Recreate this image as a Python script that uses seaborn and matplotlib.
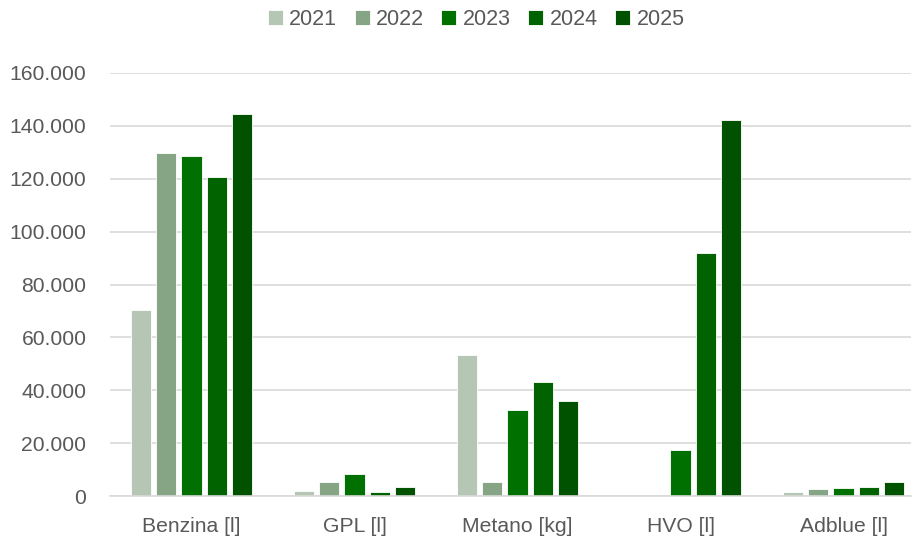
import matplotlib
matplotlib.use("Agg")
import matplotlib.pyplot as plt
import seaborn as sns
import pandas as pd
from matplotlib.ticker import FuncFormatter

categories = ["Benzina [l]", "GPL [l]", "Metano [kg]", "HVO [l]", "Adblue [l]"]
years = ["2021", "2022", "2023", "2024", "2025"]
v2021 = [70500, 2000, 53300, 0, 1500]
v2022 = [129800, 5200, 5200, 0, 2800]
v2023 = [128600, 8300, 32400, 17400, 3100]
v2024 = [120700, 1600, 43200, 92000, 3300]
v2025 = [144500, 3300, 35900, 142200, 5200]
colors = ["#B5C6B5", "#85A585", "#007000", "#006300", "#005200"]

series = [v2021, v2022, v2023, v2024, v2025]
rows = []
for y, vals in zip(years, series):
    for c, v in zip(categories, vals):
        rows.append({"cat": c, "year": y, "val": v})
df = pd.DataFrame(rows)

sns.set_theme(style="white")
plt.rcParams['font.family'] = ['Liberation Sans', 'DejaVu Sans']

fig = plt.figure(figsize=(9.14, 5.4), dpi=100)
ax = fig.add_axes([110 / 914, 1 - 496 / 540, 801 / 914, 423 / 540])
sns.barplot(data=df, x="cat", y="val", hue="year", palette=colors,
            width=0.77, gap=0.2, ax=ax, edgecolor="white", linewidth=0.6,
            saturation=1)
ax.set_ylim(0, 160000)
ax.set_yticks(range(0, 160001, 20000))
ax.yaxis.set_major_formatter(FuncFormatter(lambda v, p: "0" if v == 0 else f"{int(v):,}".replace(",", ".")))
ax.grid(axis="y", color="#D9D9D9", linewidth=1.2)
ax.set_axisbelow(True)
for s in ["top", "right", "left"]:
    ax.spines[s].set_visible(False)
ax.spines["bottom"].set_color("#D9D9D9")
ax.spines["bottom"].set_linewidth(1.2)
ax.set_xlabel("")
ax.set_ylabel("")
ax.tick_params(axis="both", length=0, labelsize=15.2, labelcolor="#595959")
ax.tick_params(axis="y", pad=17)
ax.tick_params(axis="x", pad=15)
ax.set_xlim(-0.5, 4.414)
ax.legend_.remove()
handles, labels = ax.get_legend_handles_labels()
fig.legend(handles, labels, loc="center", bbox_to_anchor=(0.521, 0.963), ncol=5, frameon=False,
           fontsize=15.5, handlelength=0.7, handleheight=0.7, columnspacing=0.8,
           handletextpad=0.3, labelcolor="#595959")
fig.savefig("out.png", dpi=100)
